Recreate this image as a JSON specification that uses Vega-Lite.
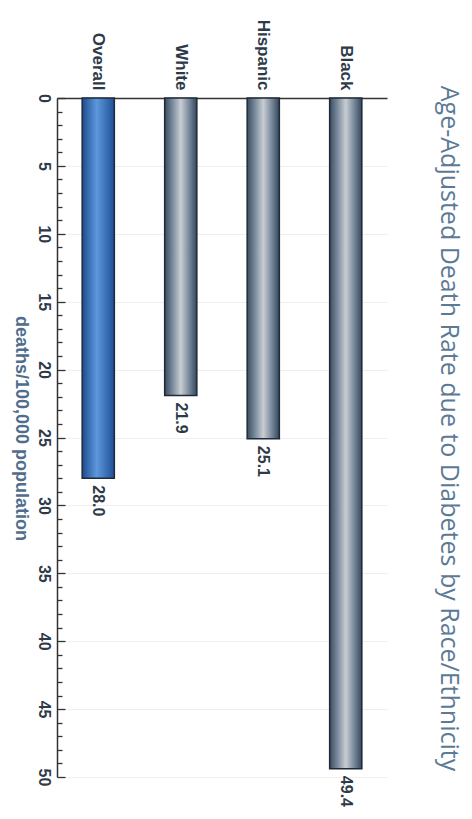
{
  "$schema": "https://vega.github.io/schema/vega-lite/v6.json",
  "width": 330,
  "height": 679,
  "autosize": {"type": "none"},
  "padding": {"left": 57, "top": 98, "right": 85, "bottom": 42},
  "background": "white",
  "title": {
    "text": "Age-Adjusted Death Rate due to Diabetes by Race/Ethnicity",
    "orient": "right",
    "anchor": "middle",
    "font": "Open Sans",
    "fontSize": 25,
    "fontWeight": "normal",
    "color": "#5b7a96",
    "offset": 49,
    "dx": -9
  },
  "config": {"view": {"stroke": null}},
  "data": {
    "values": [
      {"group": "Overall", "rate": 28.0, "label": "28.0"},
      {"group": "White", "rate": 21.9, "label": "21.9"},
      {"group": "Hispanic", "rate": 25.1, "label": "25.1"},
      {"group": "Black", "rate": 49.4, "label": "49.4"}
    ]
  },
  "encoding": {
    "x": {
      "field": "group",
      "type": "nominal",
      "sort": ["Overall", "White", "Hispanic", "Black"],
      "scale": {"paddingInner": 0.61, "paddingOuter": 0.305},
      "axis": {
        "orient": "top",
        "title": null,
        "ticks": false,
        "labelAngle": 90,
        "labelAlign": "right",
        "labelBaseline": "middle",
        "labelPadding": 8,
        "labelFont": "Liberation Sans",
        "labelFontWeight": "bold",
        "labelFontSize": 17,
        "labelColor": "#2e3a48",
        "domainColor": "#333333",
        "domainWidth": 1.5
      }
    }
  },
  "resolve": {"axis": {"y": "independent"}},
  "layer": [
    {
      "mark": {"type": "bar", "stroke": "#1e2a38", "strokeWidth": 1.5},
      "encoding": {
        "y": {
          "field": "rate",
          "type": "quantitative",
          "scale": {"domain": [0, 50], "reverse": true, "nice": false},
          "axis": {
            "orient": "left",
            "title": "deaths/100,000 population",
            "titleAngle": 90,
            "titleAlign": "center",
            "titleBaseline": "middle",
            "titleX": -37,
            "titleY": 330,
            "titleFont": "Liberation Sans",
            "titleFontWeight": "bold",
            "titleFontSize": 18,
            "titleColor": "#4f6d8c",
            "values": [0, 5, 10, 15, 20, 25, 30, 35, 40, 45, 50],
            "ticks": false,
            "labelAngle": 90,
            "labelAlign": "center",
            "labelBaseline": "middle",
            "labelPadding": 14,
            "labelFont": "Liberation Sans",
            "labelFontWeight": "bold",
            "labelFontSize": 16,
            "labelColor": "#2e3a48",
            "labelOverlap": false,
            "domainColor": "#333333",
            "domainWidth": 1.5,
            "grid": true,
            "gridColor": "#eeeeee"
          }
        },
        "fill": {
          "condition": {
            "test": "datum.group === 'Overall'",
            "value": {
              "gradient": "linear", "x1": 0, "x2": 1, "y1": 0, "y2": 0,
              "stops": [
                {"offset": 0, "color": "#1d4a8e"},
                {"offset": 0.45, "color": "#5d98dc"},
                {"offset": 1, "color": "#1f4f98"}
              ]
            }
          },
          "value": {
            "gradient": "linear", "x1": 0, "x2": 1, "y1": 0, "y2": 0,
            "stops": [
              {"offset": 0, "color": "#3a4c60"},
              {"offset": 0.25, "color": "#7b8c9e"},
              {"offset": 0.5, "color": "#c9cdd2"},
              {"offset": 0.75, "color": "#7b8c9e"},
              {"offset": 1, "color": "#34465a"}
            ]
          }
        }
      }
    },
    {
      "mark": {
        "type": "text",
        "angle": 90,
        "align": "left",
        "baseline": "middle",
        "dx": 7,
        "font": "Liberation Sans",
        "fontWeight": "bold",
        "fontSize": 16,
        "color": "#2e3a48"
      },
      "encoding": {
        "y": {
          "field": "rate",
          "type": "quantitative",
          "scale": {"domain": [0, 50], "reverse": true, "nice": false},
          "axis": {
            "orient": "right",
            "offset": -330,
            "title": null,
            "labels": false,
            "domain": false,
            "grid": false,
            "values": [0,1,2,3,4,5,6,7,8,9,10,11,12,13,14,15,16,17,18,19,20,21,22,23,24,25,26,27,28,29,30,31,32,33,34,35,36,37,38,39,40,41,42,43,44,45,46,47,48,49,50],
            "tickSize": {"condition": {"test": "datum.value % 5 === 0", "value": 8}, "value": 5},
            "tickColor": "#333333",
            "tickWidth": 1.3
          }
        },
        "text": {"field": "label"}
      }
    }
  ]
}
